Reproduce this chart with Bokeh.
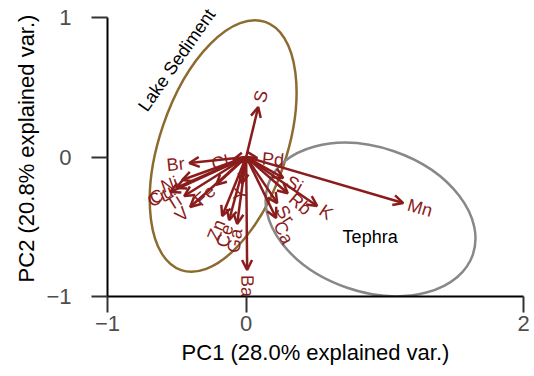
import numpy as np
from bokeh.plotting import figure
from bokeh.models import ColumnDataSource, Arrow, OpenHead, Range1d, FixedTicker, Label
from bokeh.embed import file_html
from bokeh.resources import INLINE
from bokeh.core.properties import value

# PCA loadings (biplot arrows)
variables = ["S", "Pd", "Si", "Rb", "K", "Sr", "Ca", "Mn", "Ba", "Y", "Ga",
             "Ce", "Zn", "Fe", "V", "Ti", "Cr", "Cu", "Ni", "Cl", "Br"]
pc1 = [0.087, 0.080, 0.267, 0.300, 0.512, 0.224, 0.216, 1.133, 0.007, -0.030, -0.065,
       -0.123, -0.173, -0.216, -0.404, -0.447, -0.548, -0.505, -0.462, -0.094, -0.410]
pc2 = [0.358, -0.007, -0.150, -0.260, -0.351, -0.330, -0.437, -0.330, -0.810, -0.190, -0.480,
       -0.452, -0.423, -0.200, -0.358, -0.280, -0.251, -0.222, -0.165, -0.020, -0.043]

# group ellipses
groups = ["Lake Sediment", "Tephra"]
ell_x = [-0.166, 0.897]
ell_y = [0.079, -0.448]
ell_w = [1.89, 1.56]
ell_h = [0.91, 1.035]
ell_angle_deg = [71.3, -18.9]
ell_colors = ["#8d6b30", "#888888"]

x_ticks = [-1, 0, 2]
y_ticks = [-1, 0, 1]
x_title = "PC1 (28.0% explained var.)"
y_title = "PC2 (20.8% explained var.)"

ARROW_COLOR = "#8b1c1c"
FONT = "Liberation Sans"

# the frame reaches a little above y = 1 so the rotated group name fits;
# the axis line itself stops at the last tick (see bounds below)
p = figure(width=534, height=376, output_backend="svg", toolbar_location=None,
           x_range=Range1d(-1, 2), y_range=Range1d(-1, 1.122),
           min_border_left=107, min_border_right=11, min_border_top=0, min_border_bottom=80)
p.outline_line_color = None
p.xgrid.visible = False
p.ygrid.visible = False
p.background_fill_color = "white"

# ellipses
p.ellipse(x=ell_x, y=ell_y, width=ell_w, height=ell_h,
          angle=np.radians(ell_angle_deg), fill_color=None,
          line_color=ell_colors, line_width=2.5)

# arrows
arr_src = ColumnDataSource(dict(x0=[0.0] * len(pc1), y0=[0.0] * len(pc1), x1=pc1, y1=pc2))
p.add_layout(Arrow(source=arr_src, x_start="x0", y_start="y0", x_end="x1", y_end="y1",
                   line_color=ARROW_COLOR, line_width=2.5,
                   end=OpenHead(size=10, line_color=ARROW_COLOR, line_width=2.5)))

# variable labels: rotated along the arrow, placed just beyond the tip
xs = np.array(pc1)
ys = np.array(pc2)
length = np.hypot(xs, ys)
ux, uy = xs / length, ys / length
pad = 0.035
lx = xs + ux * pad
ly = ys + uy * pad
ang = np.arctan(ys / xs)
right_side = xs > 0
for mask, align in ((right_side, "left"), (~right_side, "right")):
    src = ColumnDataSource(dict(x=lx[mask], y=ly[mask], angle=ang[mask],
                                text=[v for v, m in zip(variables, mask) if m]))
    p.text(x="x", y="y", text="text", angle="angle", source=src,
           text_align=align, text_baseline="middle", text_color=ARROW_COLOR,
           text_font=value(FONT), text_font_size="18px")

# group names
p.add_layout(Label(x=-0.5, y=0.695, text=groups[0], angle=np.radians(55),
                   text_align="center", text_baseline="middle", text_color="black",
                   text_font=FONT, text_font_size="18px"))
p.add_layout(Label(x=0.894, y=-0.573, text=groups[1],
                   text_align="center", text_baseline="middle", text_color="black",
                   text_font=FONT, text_font_size="18px"))

# axes
for ax, ticks in ((p.xaxis, x_ticks), (p.yaxis, y_ticks)):
    ax.ticker = FixedTicker(ticks=ticks)
    ax.bounds = (min(ticks), max(ticks))
    ax.major_label_overrides = {t: (str(t).replace("-", "\u2212")) for t in ticks}
    ax.minor_tick_line_color = None
    ax.axis_line_color = "black"
    ax.axis_line_width = 2
    ax.major_tick_line_color = "#333333"
    ax.major_tick_line_width = 2
    ax.major_tick_out = 16
    ax.major_tick_in = 0
    ax.major_label_text_color = "#4d4d4d"
    ax.major_label_text_font = FONT
    ax.major_label_text_font_size = "22px"
    ax.axis_label_text_font = FONT
    ax.axis_label_text_font_size = "22px"
    ax.axis_label_text_font_style = "normal"
    ax.axis_label_text_color = "black"

p.xaxis.axis_label = x_title
p.yaxis.axis_label = y_title
p.xaxis.major_label_standoff = 3
p.xaxis.axis_label_standoff = 6
p.yaxis.major_label_standoff = 20
p.yaxis.axis_label_standoff = 4
p.yaxis.major_label_orientation = "horizontal"

open("out.html", "w").write(file_html(p, INLINE))
